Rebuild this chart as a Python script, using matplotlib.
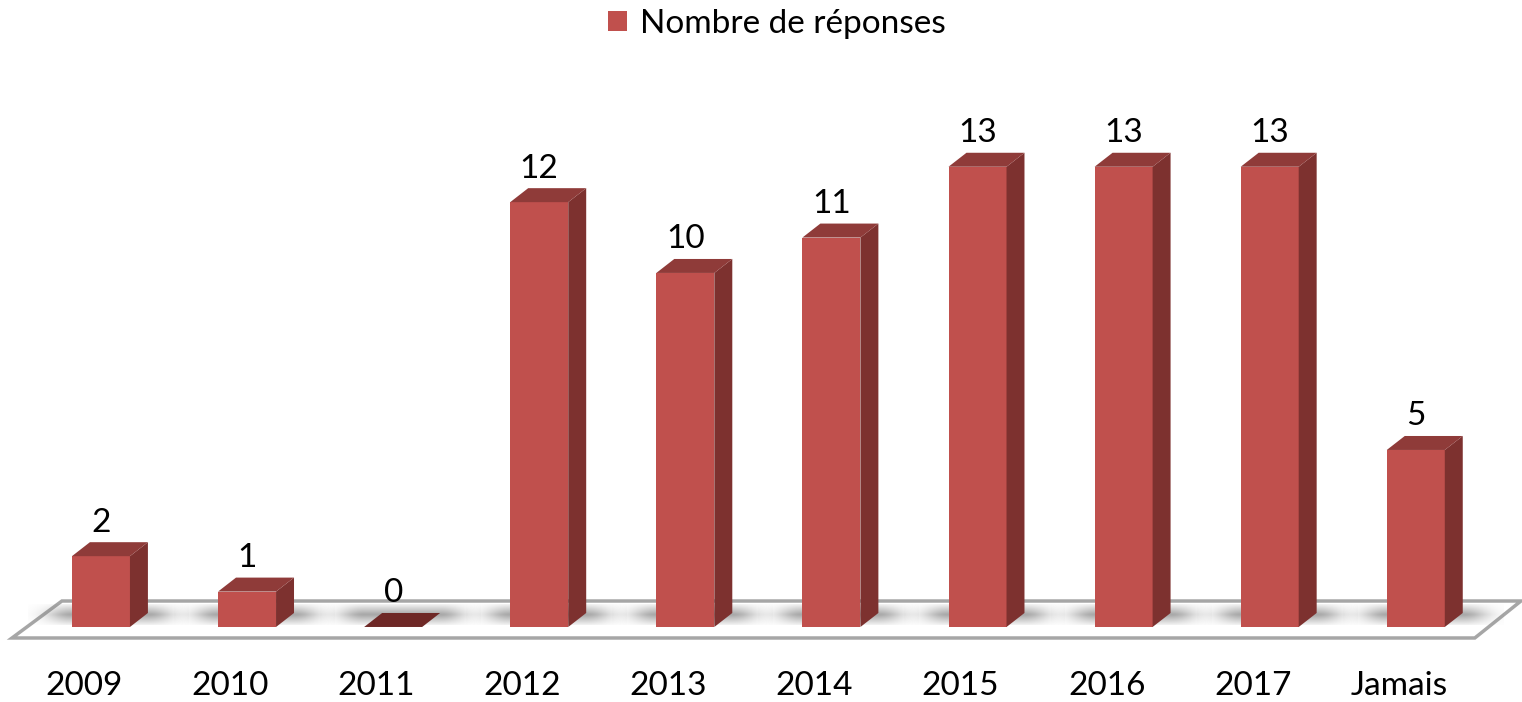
import numpy as np
import matplotlib
matplotlib.use("Agg")
import matplotlib.pyplot as plt
from matplotlib.patches import Polygon, Rectangle, Patch

plt.rcParams['font.family'] = ['Lato', 'DejaVu Sans']

categories = ['2009', '2010', '2011', '2012', '2013', '2014', '2015', '2016', '2017', 'Jamais']
values = [2, 1, 0, 12, 10, 11, 13, 13, 13, 5]
series_name = 'Nombre de réponses'

front_col = '#c0504d'
side_col = '#7d312f'
top_col = '#8f3b39'
zero_col = '#6e2826'

# pseudo-3D geometry (category units / value units)
W = 0.397
DX = 0.123
DY = 0.395

fig = plt.figure(figsize=(15.22, 7.02), dpi=100)
ax = fig.add_axes([0, 0, 1, 1])
ax.set_xlim(-0.691, 9.727)
ax.set_ylim(-2.119, 17.71)
ax.axis('off')

# floor
floor = Polygon([(-0.609, -0.311), (9.404, -0.311), (9.72, 0.734), (-0.267, 0.734)],
                closed=True, facecolor='white', edgecolor='#a6a6a6', lw=2.5, zorder=1)
ax.add_patch(floor)

# soft shadows on the floor
xs = np.linspace(-0.5, 0.6, 200)
for i, v in enumerate(values):
    d = np.maximum(np.maximum((i - W / 2) - (i + xs), (i + xs) - (i + W / 2 + DX)), 0)
    a = 0.7 * np.exp(-(d / 0.17) ** 2)
    yy = np.linspace(0, 1, 20)[:, None]
    alpha = a[None, :] * np.clip(1 - np.abs(yy - 0.5) / 0.6, 0, 1)
    img = np.zeros((20, 200, 4))
    img[..., :3] = 0.5
    img[..., 3] = alpha
    ax.imshow(img, extent=[i - 0.5, i + 0.6, 0.05, 0.62], origin='lower',
              aspect='auto', interpolation='bilinear', zorder=2)

for i, v in enumerate(values):
    x0, x1 = i - W / 2, i + W / 2
    if v > 0:
        ax.add_patch(Rectangle((x0, 0), W, v, facecolor=front_col, edgecolor='none', zorder=4))
        ax.add_patch(Polygon([(x1, 0), (x1 + DX, DY), (x1 + DX, v + DY), (x1, v)],
                             facecolor=side_col, edgecolor='none', zorder=4))
        tc = top_col
    else:
        tc = zero_col
    ax.add_patch(Polygon([(x0, v), (x0 + DX, v + DY), (x1 + DX, v + DY), (x1, v)],
                         facecolor=tc, edgecolor='none', zorder=4))
    ax.text(i, v + DY + 0.3, str(v), ha='center', va='baseline', fontsize=24, color='black', zorder=5)
    ax.text(i - 0.116, -1.667, categories[i], ha='center', va='center', fontsize=24, color='black')

ax.legend(handles=[Patch(facecolor=front_col, edgecolor='none', label=series_name)],
          loc='center', bbox_to_anchor=(777 / 1522, 1 - 24 / 702), bbox_transform=fig.transFigure,
          frameon=False, fontsize=24, handlelength=0.55, handleheight=0.55, handletextpad=0.4)

fig.savefig('out.png', dpi=100)
